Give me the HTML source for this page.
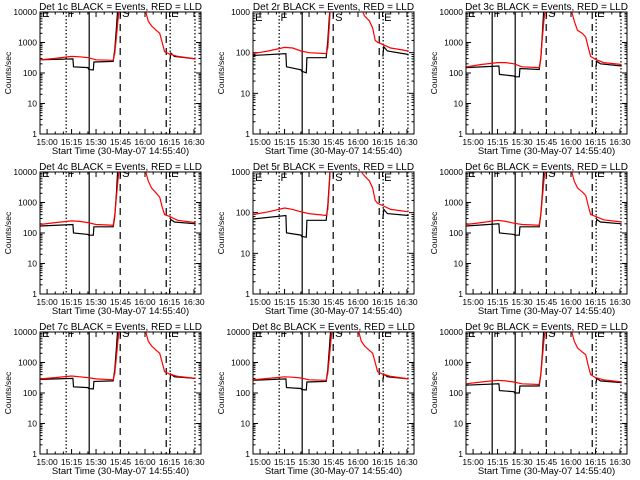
<!DOCTYPE html>
<html><head><meta charset="utf-8"><style>
html,body{margin:0;padding:0;background:#fff;}
svg{display:block;font-family:"Liberation Sans",sans-serif;}
</style></head><body>
<svg id="chart" width="640" height="480" viewBox="0 0 640 480" xmlns="http://www.w3.org/2000/svg">
<rect width="640" height="480" fill="#fff"/>
</svg>
<script>
// ---- data ----
const panelNames = ["Det 1c","Det 2r","Det 3c","Det 4c","Det 5r","Det 6c","Det 7c","Det 8c","Det 9c"];
const yMaxes = [10000,1000,10000,10000,1000,10000,10000,10000,10000];
const xTickMinutes = [0,15,30,45,60,75,90];
const xTickLabels = ["15:00","15:15","15:30","15:45","16:00","16:15","16:30"];
// minutes relative to 15:00
const blackTimes = [-4.3,15.8,16.2,25,25.5,28.3,28.7,40.5,41.5,42.5,43.5];
const blackTimes2 = [75.2,75.8,78,91];
const redTimes = [-4.3,5,15,20,25,30,40.5,41.5,42.5,43.5,44.5,59,60.5,62,64,67,69,70.5,72,75,80,91];
const black1 = [270,290,160,150,130,125,230,240,600,3000,20000];
const black2 = [85,95,45,38,35,32,75,75,200,800,3000];
const black3 = [150,170,90,80,75,75,140,130,300,2000,20000];
const black4 = [170,190,100,90,85,85,160,160,350,2000,20000];
const black5 = [70,85,32,28,26,25,65,65,150,600,3000];
const black6 = [170,200,100,90,85,85,160,160,400,2000,20000];
const black7 = [280,300,160,150,140,135,240,250,600,3000,20000];
const black8 = [260,290,150,140,130,125,230,240,600,3000,20000];
const black9 = [180,200,120,110,100,100,170,170,400,2000,20000];
const blackB1 = [250,450,350,290];
const blackB2 = [80,140,110,90];
const blackB3 = [150,240,200,170];
const blackB4 = [180,280,230,200];
const blackB5 = [70,120,95,85];
const blackB6 = [180,280,230,200];
const blackB7 = [250,420,340,300];
const blackB8 = [250,420,340,290];
const blackB9 = [200,300,250,220];
const red1 = [270,300,350,340,320,270,260,450,1500,6000,20000,20000,10000,5000,3500,2500,2000,1000,500,420,350,290];
const red2 = [95,110,135,130,110,100,95,130,500,3000,5000,3000,2000,1200,800,600,400,200,180,160,130,110];
const red3 = [160,190,220,220,200,160,150,300,1500,6000,20000,20000,10000,5000,2500,2000,1500,700,350,280,220,190];
const red4 = [190,220,250,240,220,190,180,400,1500,6000,20000,20000,10000,5000,3000,2000,1500,700,400,350,260,220];
const red5 = [90,105,130,120,105,95,85,120,500,3000,5000,3000,1500,1000,800,600,400,200,170,150,120,105];
const red6 = [190,220,260,240,210,190,180,400,1500,6000,20000,20000,10000,5000,3000,2200,1700,800,400,350,270,230];
const red7 = [290,320,360,340,320,290,270,450,1500,6000,20000,20000,10000,5000,3500,2500,2000,1000,500,420,350,300];
const red8 = [270,300,340,330,310,270,260,450,1500,6000,20000,20000,10000,5000,3500,2500,2000,1000,500,420,350,290];
const red9 = [200,230,260,250,230,200,190,400,1500,6000,20000,20000,10000,5000,3000,2200,1800,800,400,320,270,230];
const blackSets = [black1,black2,black3,black4,black5,black6,black7,black8,black9];
const blackSets2 = [blackB1,blackB2,blackB3,blackB4,blackB5,blackB6,blackB7,blackB8,blackB9];
const redSets = [red1,red2,red3,red4,red5,red6,red7,red8,red9];
const markerTimes = [11.7,25.8,44.8,73,75.4,90.6];
const markerStyles = ["dot","solid","dash","dash","dot","dot"];
const letterTimes = [-3,12.5,46,76];
const letterText = ["E","F","S","E"];
// ---- drawing ----
const NS="http://www.w3.org/2000/svg";
const svg=document.getElementById('chart');
function mk(tag,attrs,parent){const e=document.createElementNS(NS,tag);for(const k in attrs)e.setAttribute(k,attrs[k]);(parent||svg).appendChild(e);return e;}
const T0=-4.333, T1=94.3;
for(let p=0;p<9;p++){
  const col=p%3,row=Math.floor(p/3);
  const ox=col*213, oy=row*160;
  const L=ox+40,R=ox+201,Tp=oy+12,B=oy+134;
  const ymax=yMaxes[p], dec=Math.log10(ymax);
  const xs=t=>L+(t-T0)/(T1-T0)*(R-L);
  const ys=v=>B-Math.log10(v)/dec*(B-Tp);
  const g=mk('g',{});
  
  
  const cid='clip'+p;
  const cp=mk('clipPath',{id:cid},g);mk('rect',{x:L,y:Tp,width:R-L,height:B-Tp},cp);
  const title=mk('text',{x:(L+R)/2,y:oy+10,'text-anchor':'middle','font-size':'10'},g);
  title.textContent=panelNames[p]+" BLACK = Events, RED = LLD";
  
  
  const box=mk('rect',{x:L,y:Tp,width:R-L,height:B-Tp,fill:'none',stroke:'#000','stroke-width':1},g);
  
  
  for(let d=0;d<=dec;d++){
    const v=Math.pow(10,d),y=ys(v);
    mk('line',{x1:L,x2:L+5,y1:y,y2:y,stroke:'#000'},g);
    mk('line',{x1:R,x2:R-5,y1:y,y2:y,stroke:'#000'},g);
    const tl=mk('text',{x:L-3,y:y+3,'text-anchor':'end','font-size':'8.5'},g);
    tl.textContent=String(v);
    
    
    if(d<dec)for(let m=2;m<10;m++){const yy=ys(v*m);
      mk('line',{x1:L,x2:L+2.5,y1:yy,y2:yy,stroke:'#000'},g);
      mk('line',{x1:R,x2:R-2.5,y1:yy,y2:yy,stroke:'#000'},g);}
  }
  xTickMinutes.forEach((t,i)=>{const x=xs(t);
    mk('line',{x1:x,x2:x,y1:B,y2:B-5,stroke:'#000'},g);
    mk('line',{x1:x,x2:x,y1:Tp,y2:Tp+5,stroke:'#000'},g);
    const tl=mk('text',{x:x,y:B+11,'text-anchor':'middle','font-size':'8.5'},g);
    tl.textContent=xTickLabels[i];
    
    
  });
  for(let t=0;t<=90;t+=5){if(t%15===0)continue;const x=xs(t);
    mk('line',{x1:x,x2:x,y1:B,y2:B-2.5,stroke:'#000'},g);
    mk('line',{x1:x,x2:x,y1:Tp,y2:Tp+2.5,stroke:'#000'},g);}
  const xt=mk('text',{x:(L+R)/2,y:B+20,'text-anchor':'middle','font-size':'9.5'},g);
  xt.textContent="Start Time (30-May-07 14:55:40)";
  
  
  const yt=mk('text',{x:0,y:0,'text-anchor':'middle','font-size':'8.5',transform:`translate(${ox+11},${(Tp+B)/2}) rotate(-90)`},g);
  yt.textContent="Counts/sec";
  
  
  const cg=mk('g',{'clip-path':`url(#${cid})`},g);
  markerTimes.forEach((t,i)=>{let st=markerStyles[i];
    if(i===0&&(p%3===2))st="solid";
    const x=xs(t);
    const ln=mk('line',{x1:x,x2:x,y1:Tp,y2:B,stroke:'#000','stroke-width':1.2,'stroke-dasharray':st==='dot'?'1.5,2':st==='dash'?'7,5':'none'},cg);
    
    
  });
  letterTimes.forEach((t,i)=>{
    const lt=mk('text',{x:xs(t),y:ymax===1000?Tp+9:Tp+5,'font-size':'11'},cg);
    lt.textContent=letterText[i];
    
    
  });
  function linePts(ts,vs){return ts.map((t,i)=>xs(t).toFixed(1)+','+ys(vs[i]).toFixed(1)).join(' ');}
  const b1=mk('polyline',{points:linePts(blackTimes,blackSets[p]),fill:'none',stroke:'#000','stroke-width':1.2},cg);
  
  
  const b2=mk('polyline',{points:linePts(blackTimes2,blackSets2[p]),fill:'none',stroke:'#000','stroke-width':1.2},cg);
  
  
  const r=mk('polyline',{points:linePts(redTimes,redSets[p]),fill:'none',stroke:'#f00','stroke-width':1.2},cg);
  
  
}
</script>
</body></html>
